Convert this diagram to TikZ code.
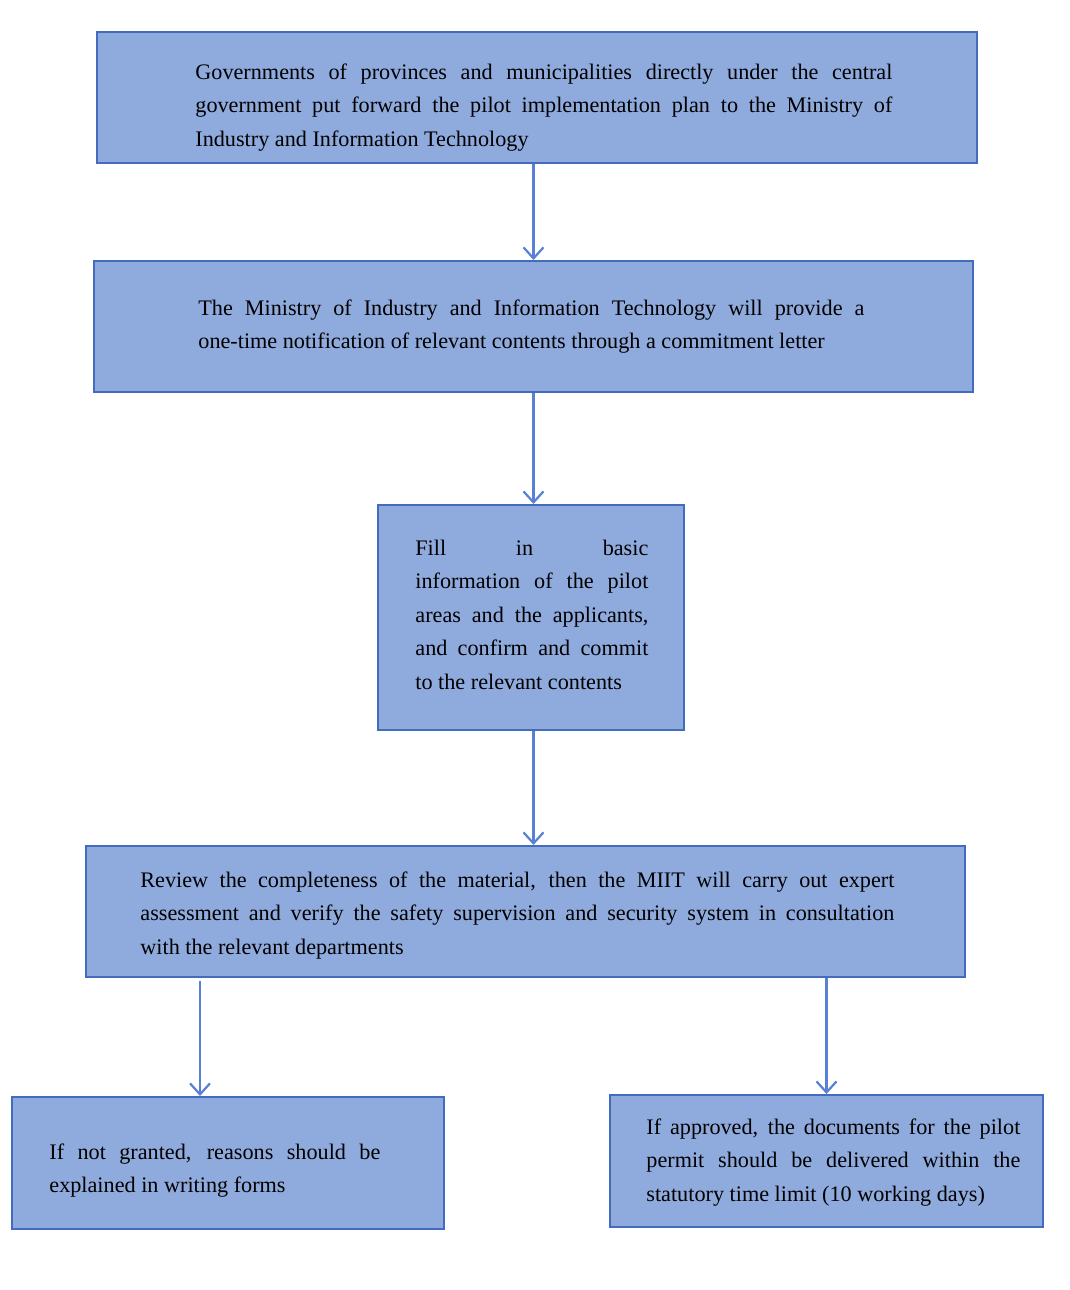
\documentclass[tikz,border=0pt]{standalone}
\usepackage{fontspec}
\setmainfont{Liberation Serif}
\usepackage{tikz}
\usetikzlibrary{arrows.meta}
\definecolor{boxfill}{RGB}{143, 170, 220}
\definecolor{boxline}{RGB}{68, 108, 190}
\definecolor{flowline}{RGB}{88, 128, 212}
\tolerance=10000
\hyphenpenalty=10000
\exhyphenpenalty=10000
\tikzset{
block/.style 2 args={draw=boxline, fill=boxfill, line width=1pt, inner sep=0pt,
	minimum width=#1, minimum height=#2},
blocktext/.style={inner sep=0pt, anchor=base west, align=justify, text width=#1,
	font=\fontsize{11.1}{16.75}\selectfont},
flow/.style={draw=flowline, line width=1.1pt, -{Straight Barb[length=5.5pt,width=10pt,line width=1.1pt]}},
}

\begin{document}
\begin{tikzpicture}[x=0.5pt, y=-0.5pt]
\useasboundingbox (0,0) rectangle (1070,1290);
%Place the boxes
\node[block={440pt}{65.5pt}] (gov) at (537,97.5) {};
\node[block={439.5pt}{65.5pt}] (plan) at (533.5,326.5) {};
\node[block={153pt}{112.5pt}] (fill) at (531,617.5) {};
\node[block={439.5pt}{65.5pt}] (review) at (525.5,911.5) {};
\node[block={216pt}{66pt}] (reject) at (228,1163) {};
\node[block={216.5pt}{66pt}] (approve) at (826.5,1161) {};

%Texts
\node[blocktext=348.5pt] (govtext) at (195,79) {Governments of provinces and municipalities directly under the central\linebreak government put forward the pilot implementation plan to the Ministry of\linebreak Industry and Information Technology};
\node[blocktext=333pt] (plantext) at (198,315) {The Ministry of Industry and Information Technology will provide a\linebreak one-time notification of relevant contents through a commitment letter};
\node[blocktext=116.5pt] (filltext) at (415,555) {Fill in basic\linebreak information of the pilot\linebreak areas and the applicants,\linebreak and confirm and commit\linebreak to the relevant contents};
\node[blocktext=377pt] (reviewtext) at (140,887) {Review the completeness of the material, then the MIIT will carry out expert\linebreak assessment and verify the safety supervision and security system in consultation\linebreak with the relevant departments};
\node[blocktext=165.5pt] (rejecttext) at (49,1159) {If not granted, reasons should be\linebreak explained in writing forms};
\node[blocktext=187pt] (approvetext) at (646,1134) {If approved, the documents for the pilot\linebreak permit should be delivered within the\linebreak statutory time limit (10 working days)};

%Connectors
\coordinate (rejin) at ([xshift=-14pt]reject.north);
\coordinate (rejout) at ([yshift=-1.5pt]review.south -| rejin);

\draw[flow] (gov.south -| plan.north) -- (plan.north);
\draw[flow] (plan.south) -- (plan.south |- fill.north);
\draw[flow] (fill.south -| plan.south) -- (review.north -| plan.south);
\draw[flow] (rejout) -- (rejin);
\draw[flow] (review.south -| approve.north) -- (approve.north);

\end{tikzpicture}
\end{document}
